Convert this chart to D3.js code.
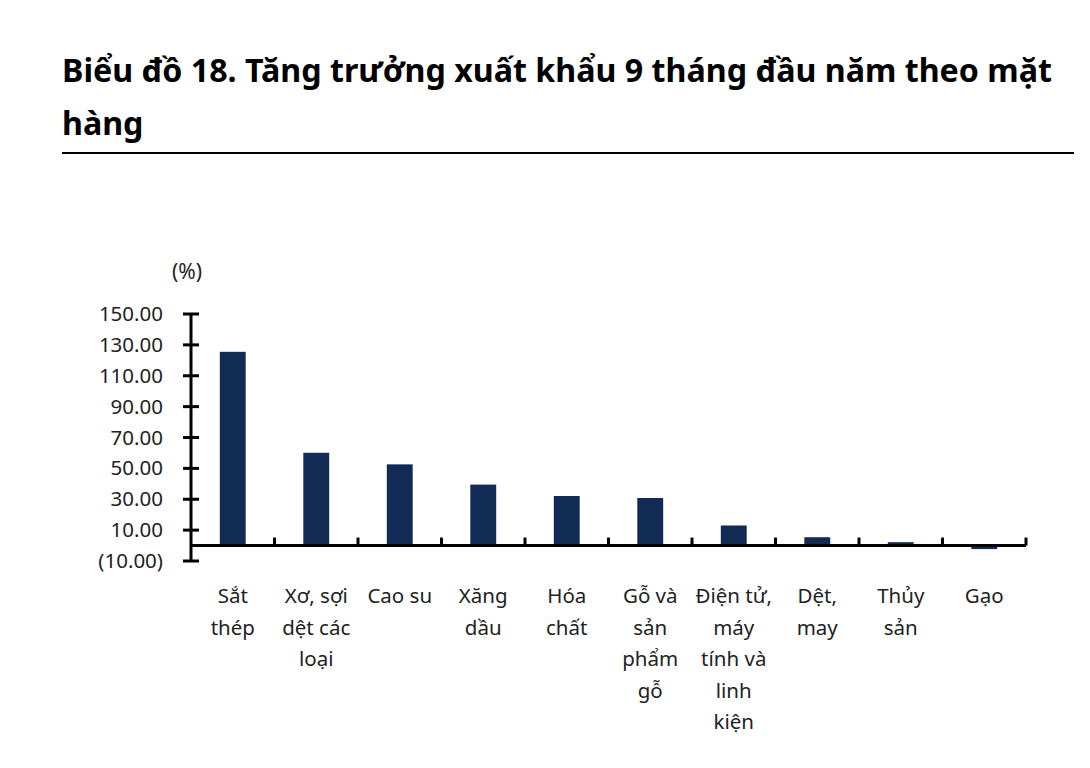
<!DOCTYPE html>
<html>
<head>
<meta charset="utf-8">
<script src="https://cdn.jsdelivr.net/npm/d3@7"></script>
<style>
  body { margin: 0; background: #fff; }
  svg text { font-family: "Noto Sans", "Open Sans", sans-serif; }
</style>
</head>
<body>
<svg id="chart" width="1090" height="768"></svg>
<script>
// categories, each split into the lines it is shown on
let categories = [
    ['Sắt', 'thép'],
    ['Xơ, sợi', 'dệt các', 'loại'],
    ['Cao su'],
    ['Xăng', 'dầu'],
    ['Hóa', 'chất'],
    ['Gỗ và', 'sản', 'phẩm', 'gỗ'],
    ['Điện tử,', 'máy', 'tính và', 'linh', 'kiện'],
    ['Dệt,', 'may'],
    ['Thủy', 'sản'],
    ['Gạo']
]
let growth = [125.5, 60.1, 52.6, 39.5, 32.1, 30.8, 13.0, 5.4, 2.2, -2.3]
let yTicks = [-10, 10, 30, 50, 70, 90, 110, 130, 150]

let titleLines = ['Biểu đồ 18. Tăng trưởng xuất khẩu 9 tháng đầu năm theo mặt', 'hàng']

let svg = d3.select('#chart')

// title block
svg.selectAll('.title')
    .data(titleLines)
    .enter()
    .append('text')
    .attr('class', 'title')
    .attr('x', 62)
    .attr('y', (d, i) => 82 + i * 53)
    .attr('font-size', 32.2)
    .attr('font-weight', 'bold')
    .attr('fill', '#000')
    .text(d => d)

svg.append('line')
    .attr('x1', 62).attr('x2', 1074)
    .attr('y1', 153).attr('y2', 153)
    .attr('stroke', '#000')
    .attr('stroke-width', 2)

let left = 191
let right = 1026

let x = d3.scaleBand()
    .domain(d3.range(categories.length))
    .range([left, right])
    .paddingInner(0.69)
    .paddingOuter(0.345)

let y = d3.scaleLinear()
    .domain([-10, 150])
    .range([561, 314])

// bars
svg.selectAll('.bar')
    .data(growth)
    .enter()
    .append('rect')
    .attr('class', 'bar')
    .attr('x', (d, i) => x(i))
    .attr('width', x.bandwidth())
    .attr('y', d => y(Math.max(0, d)))
    .attr('height', d => Math.abs(y(d) - y(0)))
    .attr('fill', '#112b54')

// y axis: ticks cross the line
let yAxis = svg.append('g')
yAxis.append('line')
    .attr('x1', left).attr('x2', left)
    .attr('y1', y(150)).attr('y2', y(-10))
    .attr('stroke', '#000')
    .attr('stroke-width', 3)
yAxis.selectAll('.ytick')
    .data(yTicks)
    .enter()
    .append('line')
    .attr('x1', left - 8).attr('x2', left + 8)
    .attr('y1', d => y(d)).attr('y2', d => y(d))
    .attr('stroke', '#000')
    .attr('stroke-width', 3)
yAxis.selectAll('.ylabel')
    .data(yTicks)
    .enter()
    .append('text')
    .attr('x', 163)
    .attr('y', d => y(d) + 7)
    .attr('text-anchor', 'end')
    .attr('font-size', 20.5)
    .attr('fill', '#222')
    .text(d => d < 0 ? '(' + d3.format('.2f')(-d) + ')' : d3.format('.2f')(d))

svg.append('text')
    .attr('x', 172)
    .attr('y', 279)
    .attr('font-size', 21)
    .attr('fill', '#222')
    .text('(%)')

// x axis at zero, with small ticks between categories
let xAxis = svg.append('g')
xAxis.append('line')
    .attr('x1', left).attr('x2', right)
    .attr('y1', y(0)).attr('y2', y(0))
    .attr('stroke', '#000')
    .attr('stroke-width', 3)
xAxis.selectAll('.xtick')
    .data(d3.range(1, categories.length + 1))
    .enter()
    .append('line')
    .attr('x1', i => left + i * x.step()).attr('x2', i => left + i * x.step())
    .attr('y1', y(0)).attr('y2', y(0) - 8)
    .attr('stroke', '#000')
    .attr('stroke-width', 3)

let labels = xAxis.selectAll('.xlabel')
    .data(categories)
    .enter()
    .append('text')
    .attr('class', 'xlabel')
    .attr('text-anchor', 'middle')
    .attr('font-size', 20.5)
    .attr('fill', '#222')

labels.selectAll('tspan')
    .data((d, i) => d.map(line => ({ line: line, i: i })))
    .enter()
    .append('tspan')
    .attr('x', d => x(d.i) + x.bandwidth() / 2)
    .attr('y', (d, j) => 603 + j * 31.5)
    .text(d => d.line)
</script>
</body>
</html>
